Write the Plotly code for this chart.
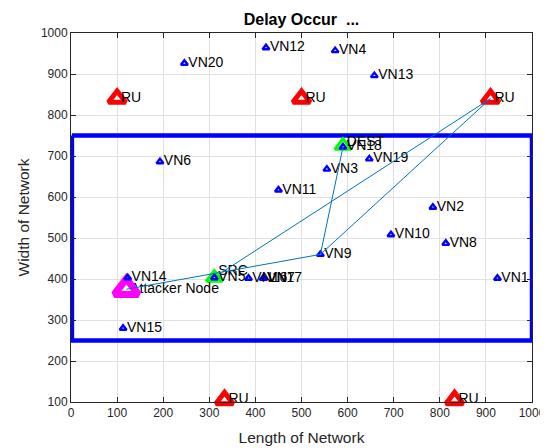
import plotly.graph_objects as go

# ---------------- data ----------------
vn_names = ["VN1", "VN2", "VN3", "VN4", "VN5", "VN6", "VN7", "VN8", "VN9", "VN10",
            "VN11", "VN12", "VN13", "VN14", "VN15", "VN16", "VN17", "VN18", "VN19", "VN20"]
vn_x = [925, 785, 555, 573, 311, 193, 418, 813, 541, 694,
        450, 423, 658, 123, 113, 385, 417, 590, 647, 246]
vn_y = [402, 575, 668, 957, 403, 686, 402, 487, 460, 508,
        617, 964, 896, 403, 280, 402, 402, 722, 693, 926]

ru_names = ["RU", "RU", "RU", "RU", "RU"]
ru_x = [100, 500, 910, 333, 832]
ru_y = [840, 840, 840, 105, 105]

end_names = ["SRC", "DEST"]
end_x = [311, 590]
end_y = [403, 725]
end_label_y = [418, 732]

attacker_name = ["Attacker Node"]
attacker_x = [120]
attacker_y = [375]

# routes (polylines through nodes)
route1_x = [120, 541, 590]
route1_y = [375, 460, 722]
route2_x = [327, 910, 541]
route2_y = [416, 840, 460]

# monitored region
region_x = [2, 1000, 1000, 2, 2]
region_y = [750, 750, 250, 250, 750]

x_ticks = [0, 100, 200, 300, 400, 500, 600, 700, 800, 900, 1000]
y_ticks = [100, 200, 300, 400, 500, 600, 700, 800, 900, 1000]

# ---------------- figure ----------------
FONT = "Liberation Sans, Arial, sans-serif"
AX = "#262626"
LINE = "#0072BD"
SP = "\u00a0"
LABEL_SIZE = 14


def lab(names):
    return [SP + n for n in names]


fig = go.Figure()

fig.add_trace(go.Scatter(x=region_x, y=region_y, mode="lines",
                         line=dict(color="#0000ff", width=4.5), hoverinfo="skip"))

fig.add_trace(go.Scatter(x=end_x, y=end_y, mode="markers",
                         marker=dict(symbol="triangle-up-open", size=14, color="#00ff00",
                                     line=dict(width=3.2, color="#00ff00")), cliponaxis=False))

fig.add_trace(go.Scatter(x=attacker_x, y=attacker_y, mode="text", text=lab(attacker_name),
                         textposition="middle right",
                         textfont=dict(family=FONT, size=LABEL_SIZE, color="black"),
                         cliponaxis=False))
fig.add_trace(go.Scatter(x=attacker_x, y=attacker_y, mode="markers",
                         marker=dict(symbol="triangle-up-open", size=21, color="#ff00ff",
                                     line=dict(width=7, color="#ff00ff")), cliponaxis=False))

fig.add_trace(go.Scatter(x=vn_x, y=vn_y, mode="markers",
                         marker=dict(symbol="triangle-up-open", size=6, color="#0000ff",
                                     line=dict(width=2.4, color="#0000ff")), cliponaxis=False))

fig.add_trace(go.Scatter(x=ru_x, y=ru_y, mode="markers",
                         marker=dict(symbol="triangle-up-open", size=15, color="#ff0000",
                                     line=dict(width=5, color="#ff0000")), cliponaxis=False))

for xs, ys, names in [(vn_x, vn_y, vn_names), (ru_x, ru_y, ru_names),
                      (end_x, end_label_y, end_names)]:
    fig.add_trace(go.Scatter(x=xs, y=ys, mode="text", text=lab(names),
                             textposition="middle right",
                             textfont=dict(family=FONT, size=LABEL_SIZE, color="black"),
                             cliponaxis=False))

for rx, ry in [(route1_x, route1_y), (route2_x, route2_y)]:
    fig.add_trace(go.Scatter(x=rx, y=ry, mode="lines", line=dict(color=LINE, width=1)))

axis_common = dict(
    showgrid=True, gridcolor="#e0e0e0", gridwidth=1, automargin=False,
    zeroline=False, showline=True, linecolor=AX, linewidth=1, mirror="ticks",
    ticks="inside", ticklen=5, tickcolor=AX, tickwidth=1,
    tickfont=dict(family=FONT, size=12, color=AX),
)

fig.update_layout(
    width=548, height=448,
    margin=dict(l=63, r=24, t=25, b=54),
    paper_bgcolor="white", plot_bgcolor="white",
    showlegend=False,
    title=dict(text="Delay Occur\u00a0 ...", x=0.5, xref="paper", xanchor="center",
               y=1 - 11 / 448, yref="container", yanchor="middle",
               font=dict(family=FONT, size=16, color="black", weight="bold")),
    xaxis=dict(range=[0, 1000], tickvals=x_ticks,
               title=dict(text="Length of Network", standoff=12,
                          font=dict(family=FONT, size=15.5, color=AX)),
               **axis_common),
    yaxis=dict(range=[100, 1000], tickvals=y_ticks,
               title=dict(text="Width of Network", standoff=7,
                          font=dict(family=FONT, size=15.5, color=AX)),
               **axis_common),
)

fig.write_html("out.html")
